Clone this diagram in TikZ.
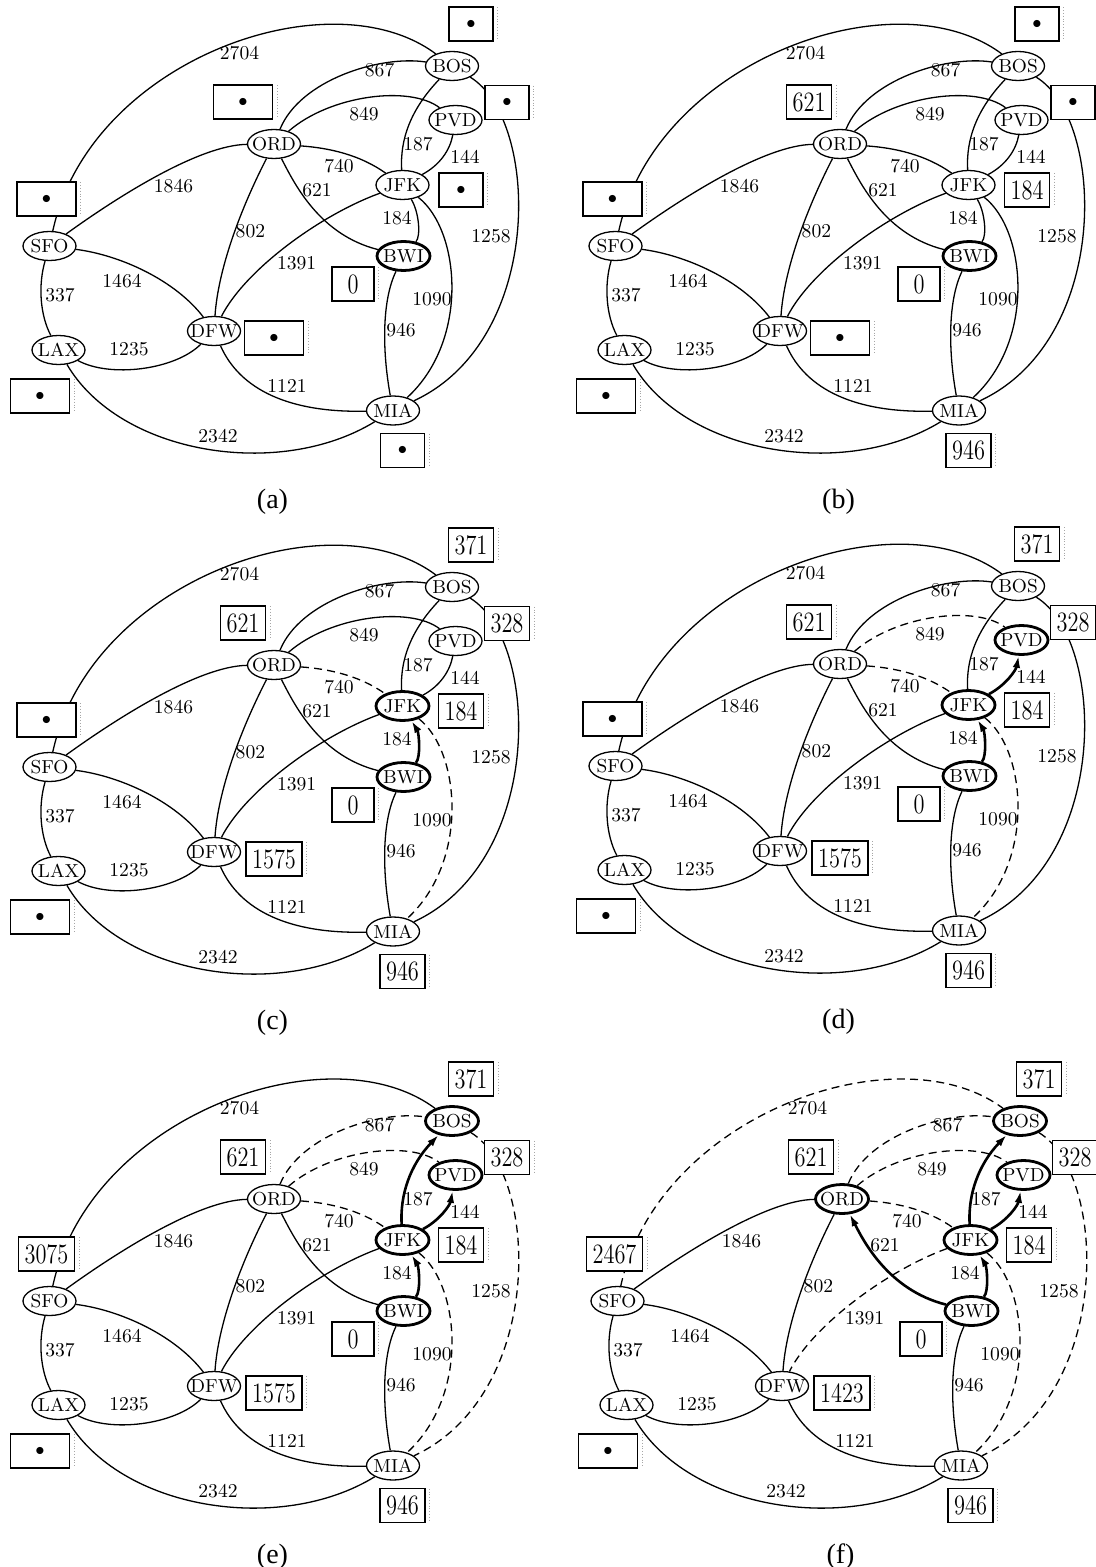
\documentclass[tikz,border=0pt]{standalone}
\usepackage{fontspec}
\usepackage{graphicx}
\newfontfamily\capfont{Liberation Serif}
\usetikzlibrary{arrows.meta,shapes.geometric}

\tikzset{
  city/.style={ellipse, draw, line width=0.65pt, fill=white, minimum width=26.5pt, minimum height=14.5pt, inner sep=0pt, font=\fontsize{9.4}{10}\selectfont},
  visited/.style={line width=1.4pt},
  edge/.style={line width=0.65pt},
  tree/.style={line width=1.3pt, -{Latex[length=6pt,width=3.8pt]}},
  nontree/.style={dash pattern=on 4pt off 2.6pt},
  wt/.style={font=\fontsize{9.8}{11}\selectfont, inner sep=0pt},
  dbox/.style={draw, line width=0.65pt, fill=white, minimum height=17pt, minimum width=21pt, inner xsep=3pt, inner ysep=0pt, font=\fontsize{14}{14}\selectfont},
  ghost/.style={gray!70, densely dotted, line width=0.4pt},
  caption/.style={font=\capfont\fontsize{14}{16}\selectfont, inner sep=0pt},
  nBOS/.style={}, nPVD/.style={}, nORD/.style={}, nJFK/.style={}, nSFO/.style={},
  nBWI/.style={}, nDFW/.style={}, nLAX/.style={}, nMIA/.style={},
  e2704/.style={}, e867/.style={}, e849/.style={}, e187/.style={}, e144/.style={},
  e740/.style={}, e621/.style={}, e1846/.style={}, e802/.style={}, e1391/.style={},
  e184/.style={}, e1090/.style={}, e1258/.style={}, e946/.style={}, e1464/.style={},
  e337/.style={}, e1235/.style={}, e1121/.style={}, e2342/.style={}
}

\newcommand\citytext[1]{\makebox[0pt]{#1}}
\newcommand\dotsym{{\fontsize{9}{9}\selectfont$\bullet$}}
\newcommand\dotw{\makebox[23.5pt]{\dotsym}}
\newcommand\dotn{\makebox[16pt]{\dotsym}}
\newcommand\num[1]{\scalebox{0.8}[1]{#1}}
\newcommand\placebox[3]{%
  \node[dbox] (#1) at (#2) {#3};
  \draw[ghost] ([xshift=2pt,yshift=-0.5pt]#1.north east) -- ([xshift=2pt,yshift=0.5pt]#1.south east);
}

\newcommand\drawgraph[2]{%
  % airports
  \node[city,nBOS] (#1BOS) at (452,66) {\citytext{BOS}};
  \node[city,nPVD] (#1PVD) at (455.5,120) {\citytext{PVD}};
  \node[city,nORD] (#1ORD) at (274,144) {\citytext{ORD}};
  \node[city,nJFK] (#1JFK) at (402.5,185) {\citytext{JFK}};
  \node[city,nSFO] (#1SFO) at (49.5,246) {\citytext{SFO}};
  \node[city,nBWI] (#1BWI) at (403.5,256) {\citytext{BWI}};
  \node[city,nDFW] (#1DFW) at (214,331) {\citytext{DFW}};
  \node[city,nLAX] (#1LAX) at (58.5,350) {\citytext{LAX}};
  \node[city,nMIA] (#1MIA) at (393,410.5) {\citytext{MIA}};
  % flights
  \draw[edge,e2704] (#1SFO) .. controls (90,60) and (330,-25) .. (#1BOS);
  \draw[edge,e867] (#1ORD) .. controls (300,80) and (380,55) .. (#1BOS);
  \draw[edge,e849] (#1ORD) .. controls (330,95) and (410,85) .. (#1PVD);
  \draw[edge,e187] (#1JFK) .. controls (400,140) and (410,110) .. (#1BOS);
  \draw[edge,e144] (#1JFK) .. controls (440,165) and (450,150) .. (#1PVD);
  \draw[edge,e740] (#1ORD) .. controls (330,148) and (360,155) .. (#1JFK);
  \draw[edge,e621] (#1BWI) .. controls (320,235) and (295,185) .. (#1ORD);
  \draw[edge,e1846] (#1SFO) .. controls (120,195) and (200,145) .. (#1ORD);
  \draw[edge,e802] (#1ORD) .. controls (240,210) and (218,270) .. (#1DFW);
  \draw[edge,e1391] (#1JFK) .. controls (320,215) and (245,270) .. (#1DFW);
  \draw[edge,e184] (#1BWI) .. controls (421,236) and (419,212) .. (#1JFK);
  \draw[edge,e1090] (#1JFK) .. controls (460,230) and (470,340) .. (#1MIA);
  \draw[edge,e1258] (#1BOS) .. controls (540,120) and (545,340) .. (#1MIA);
  \draw[edge,e946] (#1BWI) .. controls (382,300) and (382,350) .. (#1MIA);
  \draw[edge,e1464] (#1SFO) .. controls (120,255) and (175,280) .. (#1DFW);
  \draw[edge,e337] (#1SFO) .. controls (38,285) and (40,315) .. (#1LAX);
  \draw[edge,e1235] (#1LAX) .. controls (110,378) and (175,370) .. (#1DFW);
  \draw[edge,e1121] (#1DFW) .. controls (240,390) and (290,413) .. (#1MIA);
  \draw[edge,e2342] (#1LAX) .. controls (120,455) and (280,480) .. (#1MIA);
  % weights
  \node[wt] (#1w2704) at (239.5,53) {2704};
  \node[wt] (#1w867) at (379.6,70) {867};
  \node[wt] (#1w849) at (364,114.5) {849};
  \node[wt] (#1w187) at (418,143.6) {187};
  \node[wt] (#1w144) at (465,156.6) {144};
  \node[wt] (#1w740) at (339,166) {740};
  \node[wt] (#1w621) at (317,190) {621};
  \node[wt] (#1w1846) at (173.5,186) {1846};
  \node[wt] (#1w802) at (250.4,231) {802};
  \node[wt] (#1w184) at (397,218) {184};
  \node[wt] (#1w1258) at (491,236) {1258};
  \node[wt] (#1w1391) at (296.6,263) {1391};
  \node[wt] (#1w1464) at (122,281) {1464};
  \node[wt] (#1w337) at (60,294.7) {337};
  \node[wt] (#1w1090) at (432,299) {1090};
  \node[wt] (#1w946) at (401,330) {946};
  \node[wt] (#1w1235) at (129,349) {1235};
  \node[wt] (#1w1121) at (287,385.6) {1121};
  \node[wt] (#1w2342) at (218,436) {2342};
  % distance boxes
  \placebox{#1bBOS}{471,24}{\vBOS}
  \placebox{#1bPVD}{507,102.5}{\vPVD}
  \placebox{#1bORD}{243,102}{\vORD}
  \placebox{#1bJFK}{461,190}{\vJFK}
  \placebox{#1bSFO}{46.5,199}{\vSFO}
  \placebox{#1bBWI}{353,284}{\vBWI}
  \placebox{#1bDFW}{274,338}{\vDFW}
  \placebox{#1bLAX}{40,396}{\vLAX}
  \placebox{#1bMIA}{402.5,450.5}{\vMIA}
  % caption
  \node[caption] (#1cap) at (272.5,502) {(#2)};
}

\begin{document}
\begin{tikzpicture}[x=0.5pt,y=-0.5pt]
\fill[white] (0,0) rectangle (1096,1567);
\useasboundingbox (0,0) rectangle (1096,1567);
\def\vBOS{\dotn}\def\vPVD{\dotn}\def\vORD{\dotw}\def\vJFK{\dotn}\def\vSFO{\dotw}
\def\vBWI{\num{0}}\def\vDFW{\dotw}\def\vLAX{\dotw}\def\vMIA{\dotn}

% (a)
\begin{scope}[nBWI/.style={visited}]
  \drawgraph{a}{a}
\end{scope}

% (b)
\begin{scope}[shift={(566,0)}, nBWI/.style={visited}]
  \def\vORD{\num{621}}\def\vJFK{\num{184}}\def\vMIA{\num{946}}
  \drawgraph{b}{b}
\end{scope}

% (c)
\begin{scope}[shift={(0,521)}, nBWI/.style={visited}, nJFK/.style={visited},
  e184/.style={tree}, e740/.style={nontree}, e1090/.style={nontree}]
  \def\vBOS{\num{371}}\def\vPVD{\num{328}}\def\vORD{\num{621}}\def\vJFK{\num{184}}
  \def\vDFW{\num{1575}}\def\vMIA{\num{946}}
  \drawgraph{c}{c}
\end{scope}

% (d)
\begin{scope}[shift={(566,520)}, nBWI/.style={visited}, nJFK/.style={visited}, nPVD/.style={visited},
  e184/.style={tree}, e144/.style={tree}, e740/.style={nontree}, e1090/.style={nontree}, e849/.style={nontree}]
  \def\vBOS{\num{371}}\def\vPVD{\num{328}}\def\vORD{\num{621}}\def\vJFK{\num{184}}
  \def\vDFW{\num{1575}}\def\vMIA{\num{946}}
  \drawgraph{d}{d}
\end{scope}

% (e)
\begin{scope}[shift={(0,1055)}, nBWI/.style={visited}, nJFK/.style={visited}, nPVD/.style={visited}, nBOS/.style={visited},
  e184/.style={tree}, e144/.style={tree}, e187/.style={tree},
  e740/.style={nontree}, e1090/.style={nontree}, e849/.style={nontree}, e867/.style={nontree}, e1258/.style={nontree}]
  \def\vBOS{\num{371}}\def\vPVD{\num{328}}\def\vORD{\num{621}}\def\vJFK{\num{184}}
  \def\vDFW{\num{1575}}\def\vMIA{\num{946}}\def\vSFO{\num{3075}}
  \drawgraph{e}{e}
\end{scope}

% (f)
\begin{scope}[shift={(568,1055)}, nBWI/.style={visited}, nJFK/.style={visited}, nPVD/.style={visited}, nBOS/.style={visited}, nORD/.style={visited},
  e184/.style={tree}, e144/.style={tree}, e187/.style={tree}, e621/.style={tree},
  e740/.style={nontree}, e1090/.style={nontree}, e849/.style={nontree}, e867/.style={nontree}, e1258/.style={nontree},
  e2704/.style={nontree}, e1391/.style={nontree}]
  \def\vBOS{\num{371}}\def\vPVD{\num{328}}\def\vORD{\num{621}}\def\vJFK{\num{184}}
  \def\vDFW{\num{1423}}\def\vMIA{\num{946}}\def\vSFO{\num{2467}}
  \drawgraph{f}{f}
\end{scope}
\end{tikzpicture}
\end{document}
